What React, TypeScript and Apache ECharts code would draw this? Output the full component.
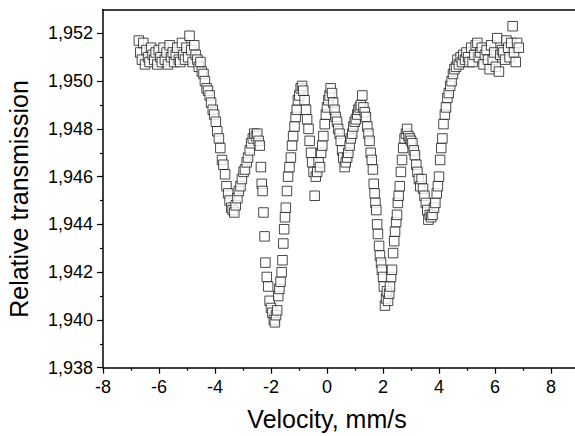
import React, { useEffect, useRef } from "react";
import * as echarts from "echarts";

// Mössbauer spectrum: [velocity mm/s, relative transmission]
const wingLeft: number[][] = [
  [-6.72, 1.9517], [-6.67, 1.9512], [-6.61, 1.9509], [-6.56, 1.9516], [-6.5, 1.9507],
  [-6.45, 1.9513], [-6.39, 1.951], [-6.34, 1.9508], [-6.28, 1.9514], [-6.23, 1.9511],
  [-6.17, 1.9509], [-6.12, 1.9512], [-6.06, 1.9507], [-6.01, 1.9513], [-5.95, 1.951],
  [-5.9, 1.9508], [-5.84, 1.9514], [-5.79, 1.9509], [-5.73, 1.9512], [-5.68, 1.9507],
  [-5.62, 1.9515], [-5.57, 1.951], [-5.51, 1.9512], [-5.46, 1.9508], [-5.4, 1.9511],
  [-5.35, 1.9514], [-5.29, 1.9509], [-5.24, 1.9508], [-5.18, 1.9516], [-5.13, 1.9511],
  [-5.07, 1.9509], [-5.02, 1.9514], [-4.96, 1.951], [-4.91, 1.9519], [-4.85, 1.9513],
  [-4.8, 1.9508], [-4.74, 1.9515], [-4.69, 1.9511], [-4.63, 1.9509], [-4.58, 1.9506],
];

const line1: number[][] = [
  [-4.52, 1.9508], [-4.47, 1.9504], [-4.41, 1.9503], [-4.36, 1.95], [-4.3, 1.9497],
  [-4.25, 1.9496], [-4.19, 1.9494], [-4.14, 1.9491], [-4.08, 1.9488], [-4.03, 1.9486],
  [-3.97, 1.9483], [-3.92, 1.9479], [-3.86, 1.9476], [-3.81, 1.9472], [-3.75, 1.9467],
  [-3.7, 1.9465], [-3.64, 1.9461], [-3.59, 1.9456], [-3.53, 1.9453], [-3.48, 1.945],
  [-3.42, 1.9447], [-3.37, 1.9446], [-3.31, 1.9445], [-3.26, 1.9448], [-3.2, 1.9451],
  [-3.15, 1.9454], [-3.09, 1.9456], [-3.04, 1.9459], [-2.98, 1.9462], [-2.93, 1.9463],
  [-2.87, 1.9466], [-2.82, 1.9468], [-2.76, 1.9471], [-2.71, 1.9474], [-2.65, 1.9476],
  [-2.6, 1.9478], [-2.54, 1.9477], [-2.49, 1.9478], [-2.44, 1.9475], [-2.4, 1.9473],
];

const line2: number[][] = [
  [-2.36, 1.9464], [-2.33, 1.9457], [-2.3, 1.9454], [-2.27, 1.9445], [-2.23, 1.9435],
  [-2.2, 1.9424], [-2.15, 1.9418], [-2.1, 1.9414], [-2.05, 1.9408], [-2.0, 1.9405],
  [-1.95, 1.9403], [-1.9, 1.94], [-1.86, 1.9399], [-1.82, 1.9402], [-1.78, 1.9404],
  [-1.74, 1.941], [-1.7, 1.9413], [-1.66, 1.9416], [-1.62, 1.942], [-1.59, 1.9425],
  [-1.56, 1.9432], [-1.53, 1.9438], [-1.5, 1.9443], [-1.47, 1.9447], [-1.43, 1.9454],
  [-1.39, 1.946], [-1.34, 1.9464], [-1.29, 1.9468], [-1.25, 1.9473], [-1.21, 1.9477],
  [-1.16, 1.9481], [-1.12, 1.9485], [-1.08, 1.9488], [-1.04, 1.9492], [-0.99, 1.9494],
  [-0.94, 1.9497], [-0.89, 1.9498], [-0.85, 1.9496], [-0.8, 1.9492], [-0.75, 1.9488],
  [-0.71, 1.9484], [-0.66, 1.948], [-0.62, 1.9475], [-0.57, 1.947], [-0.53, 1.9466],
  [-0.48, 1.9462],
];

const centre: number[][] = [
  [-0.44, 1.9452], [-0.4, 1.946], [-0.35, 1.9462], [-0.3, 1.9466], [-0.25, 1.9464],
  [-0.21, 1.947], [-0.17, 1.9473], [-0.13, 1.9477], [-0.08, 1.9482], [-0.04, 1.9486],
  [0.0, 1.9489], [0.05, 1.9492], [0.09, 1.9494], [0.13, 1.9497], [0.18, 1.9495],
  [0.22, 1.9491], [0.27, 1.9488], [0.31, 1.9485], [0.36, 1.9483], [0.4, 1.948],
  [0.45, 1.9478], [0.49, 1.9475], [0.54, 1.9471], [0.58, 1.9468], [0.63, 1.9464],
  [0.67, 1.9466], [0.72, 1.9468], [0.76, 1.947], [0.81, 1.9473], [0.85, 1.9476],
  [0.9, 1.9478], [0.94, 1.9481], [0.99, 1.9483], [1.03, 1.9484], [1.08, 1.9486],
  [1.12, 1.9488], [1.17, 1.9489], [1.21, 1.949], [1.26, 1.9494], [1.3, 1.9489],
];

const line5: number[][] = [
  [1.35, 1.9487], [1.39, 1.9485], [1.44, 1.9481], [1.48, 1.9478], [1.52, 1.9475],
  [1.56, 1.947], [1.6, 1.9467], [1.64, 1.9463], [1.67, 1.9457], [1.7, 1.9453],
  [1.73, 1.9449], [1.76, 1.9446], [1.79, 1.944], [1.82, 1.9436], [1.86, 1.9431],
  [1.89, 1.9427], [1.93, 1.9424], [1.96, 1.9421], [2.0, 1.9418], [2.03, 1.9414],
  [2.07, 1.9406], [2.11, 1.9409], [2.14, 1.9412], [2.18, 1.9408], [2.22, 1.9411],
  [2.25, 1.9414], [2.29, 1.9418], [2.32, 1.9421], [2.36, 1.9428], [2.4, 1.9433],
  [2.43, 1.9437], [2.47, 1.9441], [2.5, 1.9444], [2.53, 1.9449], [2.56, 1.9452],
  [2.6, 1.9456], [2.64, 1.9462], [2.68, 1.9467], [2.72, 1.9472], [2.77, 1.9476],
  [2.82, 1.9478], [2.86, 1.948],
];

const line6: number[][] = [
  [2.91, 1.9477], [2.96, 1.9476], [3.0, 1.9475], [3.05, 1.9474], [3.1, 1.9471],
  [3.14, 1.9469], [3.19, 1.9465], [3.23, 1.9462], [3.28, 1.9459], [3.33, 1.9456],
  [3.38, 1.9459], [3.43, 1.9455], [3.48, 1.9452], [3.53, 1.9449], [3.58, 1.9446],
  [3.62, 1.9442], [3.67, 1.9444], [3.72, 1.9443], [3.77, 1.9444], [3.82, 1.9447],
  [3.87, 1.9449], [3.92, 1.9453], [3.96, 1.9456], [4.0, 1.946], [4.04, 1.9467],
  [4.08, 1.9472], [4.12, 1.9476], [4.16, 1.9482], [4.21, 1.9486], [4.25, 1.9489],
  [4.3, 1.9493], [4.35, 1.9495], [4.4, 1.9498],
];

const wingRight: number[][] = [
  [4.45, 1.95], [4.5, 1.9503], [4.55, 1.9505], [4.61, 1.9506], [4.66, 1.9509],
  [4.71, 1.9507], [4.77, 1.951], [4.82, 1.9508], [4.87, 1.9511], [4.93, 1.9509],
  [4.98, 1.9512], [5.04, 1.951], [5.09, 1.9508], [5.15, 1.9514], [5.2, 1.9508],
  [5.26, 1.9511], [5.31, 1.9515], [5.37, 1.9516], [5.42, 1.951], [5.48, 1.9512],
  [5.53, 1.9514], [5.59, 1.9507], [5.64, 1.9511], [5.7, 1.9513], [5.75, 1.9509],
  [5.81, 1.9505], [5.86, 1.9515], [5.92, 1.9509], [5.97, 1.9512], [6.03, 1.9506],
  [6.08, 1.9518], [6.14, 1.9504], [6.19, 1.9511], [6.25, 1.9513], [6.3, 1.9512],
  [6.36, 1.9509], [6.41, 1.9517], [6.47, 1.9514], [6.52, 1.951], [6.58, 1.9516],
  [6.63, 1.9523], [6.68, 1.9512], [6.74, 1.9508], [6.79, 1.9516], [6.85, 1.9514],
];

const xMajorTicks = [-8, -6, -4, -2, 0, 2, 4, 6, 8];
const xMinorTicks = [-7, -5, -3, -1, 1, 3, 5, 7];
const yMajorTicks = [1.938, 1.94, 1.942, 1.944, 1.946, 1.948, 1.95, 1.952];
const yMinorTicks = [1.939, 1.941, 1.943, 1.945, 1.947, 1.949, 1.951];

const X_MIN = -8;
const X_MAX = 8.857;
const Y_MIN = 1.938;
const Y_MAX = 1.953;

const FONT = "'Liberation Sans', Arial, sans-serif";
const INK = "#000";

export default function App() {
  const ref = useRef<HTMLDivElement>(null);

  useEffect(() => {
    if (!ref.current) return;
    const chart = echarts.init(ref.current, null, { renderer: "svg" });
    const data = [
      ...wingLeft,
      ...line1,
      ...line2,
      ...centre,
      ...line5,
      ...line6,
      ...wingRight,
    ];
    const base = {
      type: "value" as const,
      min: X_MIN,
      max: X_MAX,
      splitLine: { show: false },
    };
    const yBase = {
      type: "value" as const,
      min: Y_MIN,
      max: Y_MAX,
      splitLine: { show: false },
    };
    chart.setOption({
      animation: false,
      backgroundColor: "#fff",
      grid: { left: 103, right: 0, top: 9.5, bottom: 68.3, containLabel: false },
      xAxis: [
        {
          ...base,
          position: "bottom",
          axisLine: { show: true, onZero: false, lineStyle: { color: INK, width: 1.5 } },
          axisTick: {
            show: true,
            customValues: xMajorTicks,
            length: 6,
            lineStyle: { color: INK, width: 1.2 },
          },
          axisLabel: {
            customValues: xMajorTicks,
            formatter: (v: number) => String(v),
            fontSize: 18,
            fontFamily: FONT,
            color: INK,
            margin: 10,
          },
        },
        {
          ...base,
          position: "bottom",
          axisLine: { show: false, onZero: false },
          axisTick: {
            show: true,
            customValues: xMinorTicks,
            length: 3,
            lineStyle: { color: INK, width: 1.2 },
          },
          axisLabel: { show: false },
        },
        {
          ...base,
          position: "top",
          axisLine: { show: true, onZero: false, lineStyle: { color: INK, width: 1.5 } },
          axisTick: { show: false },
          axisLabel: { show: false },
        },
      ],
      yAxis: [
        {
          ...yBase,
          position: "left",
          axisLine: { show: true, onZero: false, lineStyle: { color: INK, width: 1.5 } },
          axisTick: {
            show: true,
            customValues: yMajorTicks,
            length: 6,
            lineStyle: { color: INK, width: 1.2 },
          },
          axisLabel: {
            customValues: yMajorTicks,
            formatter: (v: number) => v.toFixed(3).replace(".", ","),
            fontSize: 18,
            fontFamily: FONT,
            color: INK,
            margin: 10,
          },
        },
        {
          ...yBase,
          position: "left",
          axisLine: { show: false, onZero: false },
          axisTick: {
            show: true,
            customValues: yMinorTicks,
            length: 3,
            lineStyle: { color: INK, width: 1.2 },
          },
          axisLabel: { show: false },
        },
      ],
      graphic: [
        {
          type: "text",
          x: 327,
          y: 419,
          style: {
            text: "Velocity, mm/s",
            fontSize: 25,
            fontFamily: FONT,
            fill: INK,
            textAlign: "center",
            textVerticalAlign: "middle",
          },
        },
        {
          type: "text",
          x: 19,
          y: 199,
          rotation: Math.PI / 2,
          style: {
            text: "Relative transmission",
            fontSize: 25,
            fontFamily: FONT,
            fill: INK,
            textAlign: "center",
            textVerticalAlign: "middle",
          },
        },
      ],
      series: [
        {
          type: "scatter",
          xAxisIndex: 0,
          yAxisIndex: 0,
          data,
          symbol: "rect",
          symbolSize: 9.5,
          silent: true,
          itemStyle: { color: "#fff", borderColor: "#1a1a1a", borderWidth: 1 },
        },
      ],
    });
    return () => chart.dispose();
  }, []);

  return (
    <div
      ref={ref}
      style={{ position: "fixed", left: 0, top: 0, width: 575, height: 436, background: "#fff" }}
    />
  );
}
